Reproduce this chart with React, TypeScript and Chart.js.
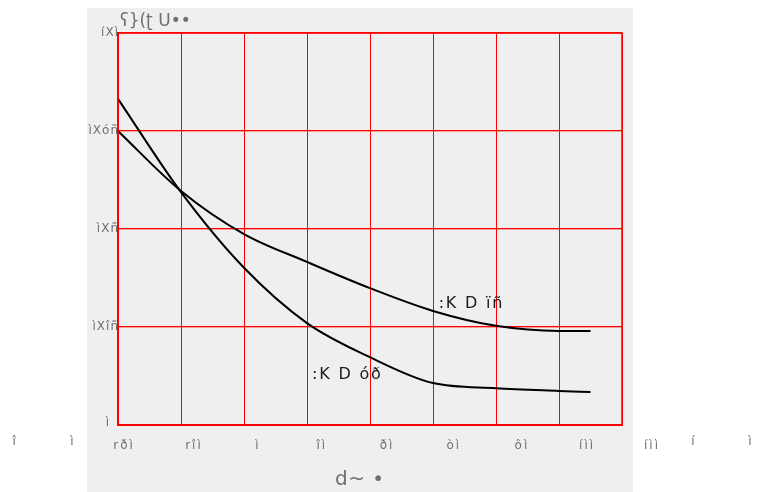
import React, { useEffect, useRef } from "react";
import { Chart, registerables } from "chart.js";

Chart.register(...registerables);

// x positions (data units) of the two curves
const xValues = [-40, -20, 0, 20, 40, 60, 80, 100, 110];
// upper curve at the right (label ":K D ïñ")
const seriesUpper = [0.75, 0.597, 0.487, 0.416, 0.349, 0.291, 0.253, 0.24, 0.24];
// lower curve at the right (label ":K D óð")
const seriesLower = [0.832, 0.594, 0.401, 0.26, 0.173, 0.107, 0.094, 0.087, 0.084];

const yTickValues = [0, 0.25, 0.5, 0.75, 1.0];
const yTickLabels = ["ì", "ìXîñ", "ìXñ", "ìXóñ", "íXì"];

// x tick labels as printed, with their positions in data units
const xTickLabels = ["rðì", "rîì", "ì", "îì", "ðì", "òì", "ôì", "íìì", "íìì"];
const xTickPositions = [-38.4, -16.2, 4.1, 24.4, 45.1, 66.3, 87.9, 108.6, 129.2];
// stray labels outside the frame
const strayLabels = ["î", "ì", "í", "ì"];
const strayPositions = [-73, -54.6, 142.5, 160.6];

const titleText = "ʕ}(ʈ U••";
const xTitleText = "d~ •";
const annotations = [
  { text: ":K D ïñ", x: 61.8, y: 0.31 },
  { text: ":K D óð", x: 21.6, y: 0.128 },
];

export default function App() {
  const ref = useRef<HTMLCanvasElement | null>(null);

  useEffect(() => {
    document.body.style.margin = "0";
    const canvas = ref.current;
    if (!canvas) return;

    const textPlugin = {
      id: "decor",
      beforeDraw(chart: any) {
        const { ctx, chartArea } = chart;
        ctx.save();
        ctx.fillStyle = "#ffffff";
        ctx.fillRect(0, 0, chart.width, chart.height);
        ctx.fillStyle = "#efefef";
        ctx.fillRect(chartArea.left - 31, chartArea.top - 25, 546, chart.height);
        ctx.restore();
      },
      beforeDatasetsDraw(chart: any) {
        const { ctx, chartArea, scales } = chart;
        const ys = scales.y;
        ctx.save();
        yTickValues.forEach((v) => {
          const py = Math.round(ys.getPixelForValue(v));
          ctx.fillStyle = "#ff0000";
          ctx.fillRect(chartArea.left, py - 1, chartArea.right - chartArea.left, 1);
          ctx.fillStyle = "rgba(255,0,0,0.35)";
          ctx.fillRect(chartArea.left, py, chartArea.right - chartArea.left, 1);
        });
        ctx.restore();
      },
      afterDraw(chart: any) {
        const { ctx, chartArea, scales } = chart;
        const xs = scales.x;
        const ys = scales.y;
        ctx.save();
        // y tick labels
        ctx.font = "12px 'DejaVu Sans'";
        ctx.fillStyle = "#707070";
        ctx.textAlign = "right";
        ctx.textBaseline = "middle";
        (ctx as any).letterSpacing = "1px";
        yTickValues.forEach((v, i) => {
          const shift = v === 0 ? -8 : 1;
          ctx.fillText(yTickLabels[i], chartArea.left + shift, ys.getPixelForValue(v) - (v === 0 ? 2 : 0));
        });
        // x tick labels
        ctx.textAlign = "center";
        (ctx as any).letterSpacing = "2px";
        xTickLabels.forEach((t, i) => {
          ctx.fillText(t, xs.getPixelForValue(xTickPositions[i]) + 1, chartArea.bottom + 21);
        });
        strayLabels.forEach((t, i) => {
          ctx.fillText(t, xs.getPixelForValue(strayPositions[i]) + 1, chartArea.bottom + 17);
        });
        // title
        ctx.textAlign = "left";
        ctx.font = "17px 'DejaVu Sans'";
        ctx.fillStyle = "#707070";
        (ctx as any).letterSpacing = "0px";
        ctx.fillText(titleText, chartArea.left + 2, chartArea.top - 11);
        // x axis title
        ctx.font = "20px 'DejaVu Sans'";
        ctx.textAlign = "left";
        (ctx as any).letterSpacing = "0.5px";
        ctx.fillText(xTitleText, chartArea.left + 217, chartArea.bottom + 55);
        // annotations
        ctx.font = "16px 'DejaVu Sans'";
        ctx.fillStyle = "#1a1a1a";
        (ctx as any).letterSpacing = "1.8px";
        annotations.forEach((a) => {
          ctx.fillText(a.text, xs.getPixelForValue(a.x), ys.getPixelForValue(a.y));
        });
        ctx.restore();
      },
    };

    const chart = new Chart(canvas, {
      type: "line",
      data: {
        datasets: [
          {
            data: xValues.map((x, i) => ({ x, y: seriesUpper[i] })),
            borderColor: "#000000",
            borderWidth: 2,
            pointRadius: 0,
            fill: false,
            cubicInterpolationMode: "monotone",
          },
          {
            data: xValues.map((x, i) => ({ x, y: seriesLower[i] })),
            borderColor: "#000000",
            borderWidth: 2,
            pointRadius: 0,
            fill: false,
            cubicInterpolationMode: "monotone",
          },
        ],
      },
      options: {
        responsive: false,
        animation: false,
        layout: { padding: { left: 118, right: 141, top: 33, bottom: 67 } },
        plugins: { legend: { display: false }, tooltip: { enabled: false } },
        scales: {
          x: {
            type: "linear",
            min: -40,
            max: 120,
            ticks: { display: false, stepSize: 20 },
            grid: { color: "rgb(255,0,0)", lineWidth: 1, drawTicks: false },
            border: { color: "#ff0000", width: 2 },
          },
          y: {
            type: "linear",
            min: 0,
            max: 1,
            ticks: { display: false, stepSize: 0.25 },
            grid: { display: false, drawTicks: false },
            border: { color: "#ff0000", width: 2 },
          },
        },
      },
      plugins: [
        textPlugin,
        {
          id: "frame",
          afterDatasetsDraw(chart: any) {
            const { ctx, chartArea } = chart;
            ctx.save();
            ctx.strokeStyle = "#ff0000";
            ctx.lineWidth = 1.5;
            ctx.strokeRect(chartArea.left, chartArea.top, chartArea.right - chartArea.left, chartArea.bottom - chartArea.top);
            ctx.restore();
          },
        },
      ],
    } as any);

    return () => chart.destroy();
  }, []);

  return (
    <div style={{ position: "absolute", left: 0, top: 0, width: 763, height: 492 }}>
      <canvas ref={ref} width={763} height={492} />
    </div>
  );
}
